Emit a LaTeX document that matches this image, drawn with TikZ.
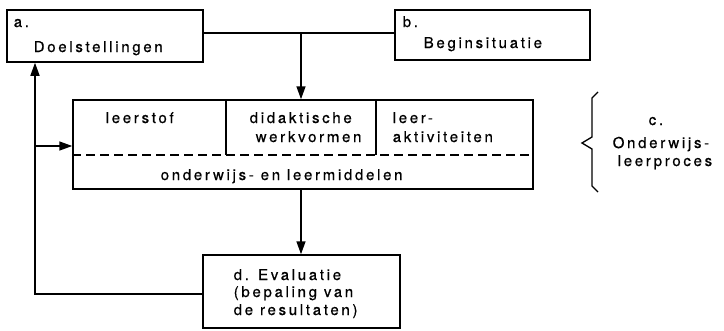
\documentclass[tikz,border=0pt]{standalone}
\usepackage{fontspec}
\setmainfont{TeX Gyre Heros}[LetterSpace=18,FakeBold=0.6]
\usetikzlibrary{arrows.meta}
\begin{document}
\begin{tikzpicture}[x=1pt,y=-1pt,line width=1.5pt,
  box/.style={draw, rectangle, inner sep=0pt},
  txt/.style={inner sep=0pt, anchor=base west, font=\fontsize{15}{18}\selectfont},
  arr/.style={-{Triangle[length=13pt,width=9pt]}}]
\fill[white] (0,0) rectangle (724,330);
\useasboundingbox (0,0) rectangle (724,330);
% boxes
\node[box, minimum width=196pt, minimum height=52pt] (a) at (105,36) {};
\node[box, minimum width=195pt, minimum height=50pt] (b) at (492.5,35) {};
\node[box, minimum width=460pt, minimum height=89pt] (m) at (303,144.5) {};
\node[box, minimum width=197pt, minimum height=73pt] (d) at (301.5,291.5) {};
% inner divisions of main box
\draw (226,100) -- (226,155);
\draw (376,100) -- (376,155);
\draw[dash pattern=on 9pt off 5pt] (m.west |- 0,155) -- (m.east |- 0,155);
% texts
\node[txt] (ta1) at (13,27) {a.};
\node[txt] (ta2) at (33,52) {Doelstellingen};
\node[txt] (tb1) at (402,27) {b.};
\node[txt] (tb2) at (423,48) {Beginsituatie};
\node[txt] (t1) at (105,123) {leerstof};
\node[txt] (t2) at (249,123) {didaktische};
\node[txt] (t3) at (255,142) {werkvormen};
\node[txt] (t4) at (392,123) {leer-};
\node[txt] (t5) at (392,142) {aktiviteiten};
\node[txt] (t6) at (160,180) {onderwijs- en leermiddelen};
\node[txt] (td1) at (233,280) {d. Evaluatie};
\node[txt] (td2) at (233,297) {(bepaling van};
\node[txt] (td3) at (233,315) {de resultaten)};
\node[txt] (tc1) at (648,125) {c.};
\node[txt] (tc2) at (612,148) {Onderwijs-};
\node[txt] (tc3) at (617,166) {leerproces};
% brace
\draw[line width=1.3pt] (598,92) -- (592,98) -- (592,137) -- (582,143) -- (592,149) -- (592,186) -- (598,192);
% connectors
\coordinate (j) at (301,33);
\coordinate (fb) at (35,294);
\coordinate (br) at (35,146);
\draw (a.east |- j) -- (b.west |- j);
\draw[arr] (j) -- (m.north -| j);
\draw[arr] (m.south -| j) -- (d.north -| j);
\draw[arr] (d.west |- fb) -- (fb) -- (a.south -| fb);
\draw[arr] (br) -- (m.west |- br);
\end{tikzpicture}
\end{document}
